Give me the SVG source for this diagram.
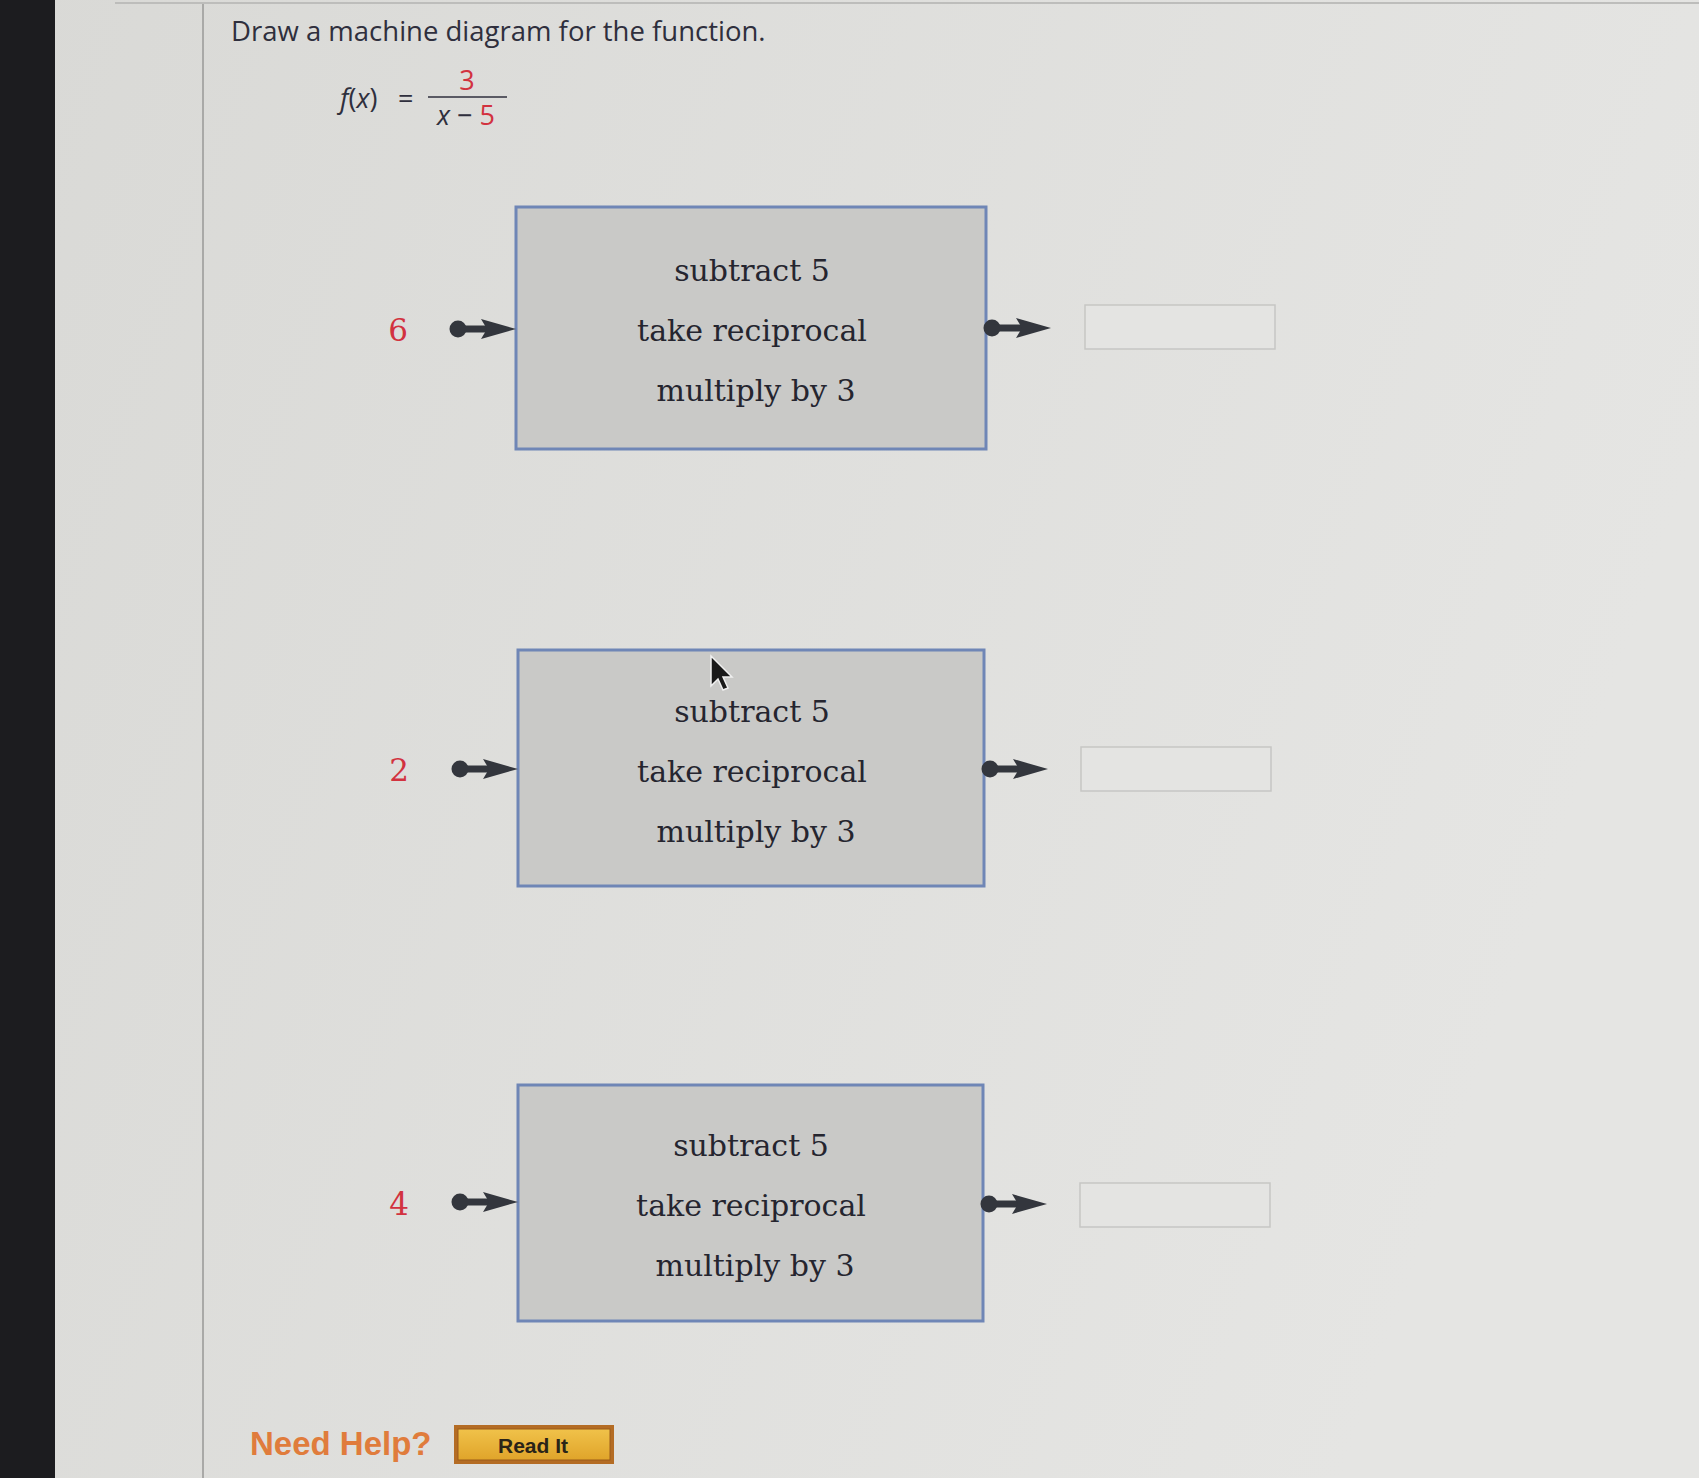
<svg xmlns="http://www.w3.org/2000/svg" width="1699" height="1478" viewBox="0 0 1699 1478">
<defs>
<linearGradient id="bg" x1="0" y1="0" x2="1" y2="0.3">
<stop offset="0" stop-color="#d9d9d6"/>
<stop offset="1" stop-color="#e5e5e3"/>
</linearGradient>
<linearGradient id="btn" x1="0" y1="0" x2="0" y2="1">
<stop offset="0" stop-color="#f0c24a"/>
<stop offset="1" stop-color="#e0a42a"/>
</linearGradient>
<path id="ah" d="M-35,-10 L0,0 L-35,10 L-29,0 Z" fill="#33363d"/>
</defs>
<style>
.machine{fill:#c9c9c7;stroke:#6f86b6;stroke-width:3}
.step{font-family:"DejaVu Serif",serif;font-size:30px;fill:#25252f;text-anchor:middle}
.inp{font-family:"DejaVu Serif",serif;font-size:31px;fill:#d2323f;text-anchor:middle}
.ans{fill:#e4e4e2;stroke:#c6c6c4;stroke-width:1.5}
.wire{stroke:#33363d;stroke-width:7;fill:none}
.dot{fill:#33363d}
.sans{font-family:"Open Sans","Liberation Sans",sans-serif;fill:#2f2f3d}
.red{fill:#d2323f}
</style>
<rect x="0" y="0" width="1699" height="1478" fill="url(#bg)"/>
<rect x="0" y="0" width="55" height="1478" fill="#1c1c1f"/>
<line x1="115" y1="3" x2="1699" y2="3" stroke="#bdbdbb" stroke-width="2"/>
<line x1="203" y1="4" x2="203" y2="1478" stroke="#a9a9a7" stroke-width="2"/>

<g id="header">
<text class="sans" x="231" y="41" font-size="27.5">Draw a machine diagram for the function.</text>
<text class="sans" x="340" y="108" font-size="27"><tspan font-style="italic">f</tspan>(<tspan font-style="italic">x</tspan>)<tspan x="398">=</tspan></text>
<text class="sans red" x="467" y="90" font-size="27" text-anchor="middle">3</text>
<line x1="428" y1="97" x2="507" y2="97" stroke="#2f2f3d" stroke-width="1.5"/>
<text class="sans" x="466" y="125" font-size="27" text-anchor="middle"><tspan font-style="italic">x</tspan> − <tspan class="red">5</tspan></text>
</g>

<g id="machine1">
<rect class="machine" x="516" y="207" width="470" height="242"/>
<text class="step" x="752" y="281">subtract 5</text>
<text class="step" x="752" y="341">take reciprocal</text>
<text class="step" x="756" y="401">multiply by 3</text>
</g>
<g id="input1"><text class="inp" x="398" y="341">6</text></g>
<g id="output1"><rect class="ans" x="1085" y="305" width="190" height="44"/></g>

<g id="machine2">
<rect class="machine" x="518" y="650" width="466" height="236"/>
<text class="step" x="752" y="722">subtract 5</text>
<text class="step" x="752" y="782">take reciprocal</text>
<text class="step" x="756" y="842">multiply by 3</text>
</g>
<g id="input2"><text class="inp" x="399" y="781">2</text></g>
<g id="output2"><rect class="ans" x="1081" y="747" width="190" height="44"/></g>

<g id="machine3">
<rect class="machine" x="518" y="1085" width="465" height="236"/>
<text class="step" x="751" y="1156">subtract 5</text>
<text class="step" x="751" y="1216">take reciprocal</text>
<text class="step" x="755" y="1276">multiply by 3</text>
</g>
<g id="input3"><text class="inp" x="399" y="1215">4</text></g>
<g id="output3"><rect class="ans" x="1080" y="1183" width="190" height="44"/></g>

<g id="connectors">
<circle class="dot" cx="458" cy="329" r="8.5"/>
<line class="wire" x1="458" y1="329" x2="488" y2="329"/>
<use href="#ah" x="516" y="329"/>
<circle class="dot" cx="992" cy="328" r="8.5"/>
<line class="wire" x1="992" y1="328" x2="1024" y2="328"/>
<use href="#ah" x="1051" y="328"/>
<circle class="dot" cx="460" cy="769" r="8.5"/>
<line class="wire" x1="460" y1="769" x2="490" y2="769"/>
<use href="#ah" x="518" y="769"/>
<circle class="dot" cx="990" cy="769" r="8.5"/>
<line class="wire" x1="990" y1="769" x2="1021" y2="769"/>
<use href="#ah" x="1048" y="769"/>
<circle class="dot" cx="460" cy="1202" r="8.5"/>
<line class="wire" x1="460" y1="1202" x2="490" y2="1202"/>
<use href="#ah" x="518" y="1202"/>
<circle class="dot" cx="989" cy="1204" r="8.5"/>
<line class="wire" x1="989" y1="1204" x2="1020" y2="1204"/>
<use href="#ah" x="1047" y="1204"/>
</g>

<g id="cursor">
<path d="M711,656 L711,686 L718,679 L723,690 L728,688 L723,677 L732,677 Z" fill="#1a1a1a" stroke="#f0f0f0" stroke-width="1.5"/>
</g>

<g id="help">
<text x="250" y="1455" font-family="'Liberation Sans',Arial,sans-serif" font-weight="bold" font-size="33" fill="#e07c3c">Need Help?</text>
<rect x="454" y="1425" width="160" height="39" fill="#b46c24"/>
<rect x="458" y="1429" width="152" height="31" fill="url(#btn)" stroke="#9a5a1a" stroke-width="1"/>
<text x="533" y="1453" font-family="'Liberation Sans',Arial,sans-serif" font-weight="bold" font-size="21" fill="#2a2418" text-anchor="middle">Read It</text>
</g>
</svg>
